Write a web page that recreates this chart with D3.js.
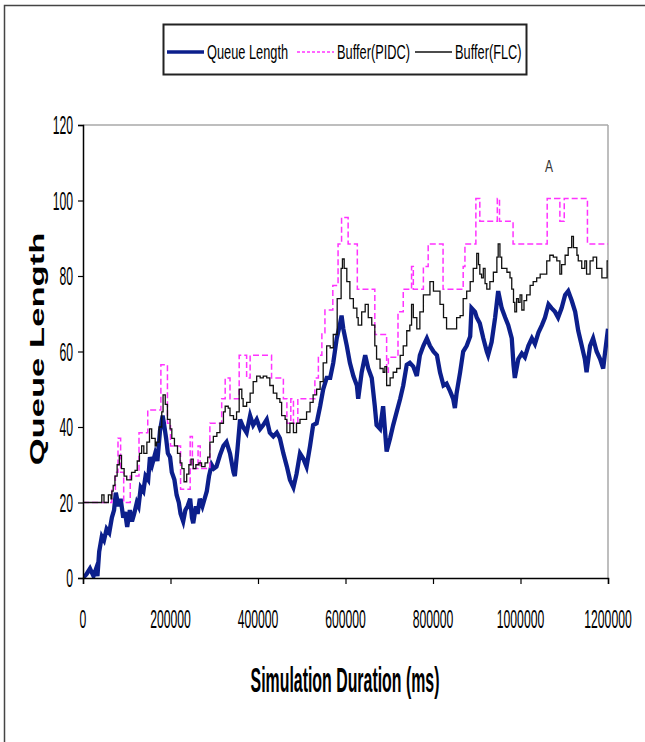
<!DOCTYPE html>
<html>
<head>
<meta charset="utf-8">
<script src="https://cdn.jsdelivr.net/npm/d3@7"></script>
<style>
  body { margin: 0; background: white; }
  text { font-family: "Liberation Sans", Arial, sans-serif; }
</style>
</head>
<body>
<div id="chart"></div>
<script>
// ticks
var xTicks = [0, 200000, 400000, 600000, 800000, 1000000, 1200000];
var yTicks = [0, 20, 40, 60, 80, 100, 120];

// Queue Length (ms, packets)
var queueTime = [0, 8000, 16000, 24000, 30000, 33000, 37000, 43000, 48000, 54000, 60000, 66000, 71000, 75000, 81000, 86000, 92000, 96000, 101000, 107000,
  112000, 117000, 123000, 127000, 132000, 138000, 143000, 149000, 153000, 158000, 165000, 170000, 176000, 182000, 185000, 190000, 194000, 199000, 203000, 209000,
  214000, 219000, 223000, 229000, 234000, 239000, 245000, 249000, 252000, 258000, 262000, 267000, 273000, 278000, 283000, 288000, 294000, 299000, 305000, 313000,
  321000, 328000, 336000, 344000, 347000, 353000, 359000, 366000, 374000, 382000, 389000, 397000, 405000, 412000, 420000, 427000, 435000, 443000, 450000, 458000,
  466000, 473000, 481000, 488000, 496000, 504000, 511000, 519000, 526000, 534000, 542000, 549000, 557000, 565000, 572000, 580000, 587000, 591000, 595000, 603000,
  610000, 618000, 626000, 629000, 637000, 645000, 652000, 660000, 667000, 671000, 679000, 686000, 694000, 702000, 709000, 717000, 725000, 732000, 740000, 747000,
  755000, 763000, 770000, 778000, 786000, 793000, 801000, 809000, 816000, 824000, 831000, 839000, 846000, 850000, 854000, 862000, 869000, 877000, 885000, 888000,
  896000, 900000, 907000, 915000, 923000, 926000, 934000, 942000, 949000, 957000, 965000, 972000, 980000, 984000, 987000, 995000, 1003000, 1010000, 1018000, 1026000,
  1033000, 1041000, 1049000, 1056000, 1064000, 1071000, 1079000, 1086000, 1094000, 1102000, 1109000, 1117000, 1125000, 1132000, 1140000, 1147000, 1151000, 1159000, 1166000, 1174000,
  1182000, 1189000, 1193000, 1200000];
var queueLength = [0, 1, 2.5, 0.5, 2.5, 0.5, 7, 11, 10, 13, 12, 16, 18, 22.6, 19, 21, 16, 17.5, 13.5, 18,
  15, 17, 20, 19, 24, 23, 27, 26, 32, 30, 33, 31, 39, 43, 41, 37, 33, 32, 28, 26,
  22, 20, 17, 15, 18, 19, 21, 16, 14.5, 19, 17, 21, 19, 21, 23, 27, 30, 29, 29.5, 32.5,
  35, 36, 33, 28, 27, 34, 42, 40, 38.5, 43, 40.5, 42, 39.5, 40.5, 42, 38.5, 37.5, 38.5, 37, 33,
  29.5, 26, 24, 27.5, 33, 31.5, 29.5, 35, 40.5, 41, 45.5, 50, 53, 53, 57, 63.5, 67, 69.5, 66, 61.5,
  57, 53.5, 51, 47.5, 54.5, 59, 55.5, 53, 45.5, 40.5, 39.5, 45.5, 33.5, 37, 40.5, 44, 47.5, 51, 56.5, 57,
  56, 53.5, 59, 61.5, 63.5, 61.5, 60, 59, 54.5, 51, 51.5, 49.5, 47.5, 45, 49, 54.5, 60, 61.5, 64, 71.5,
  70.5, 69, 67.5, 63.5, 60, 59, 62.5, 69, 76, 71.5, 69, 67, 63.5, 56.5, 53, 58, 59.5, 58.5, 61.5, 63.5,
  62, 65, 67, 69, 72.5, 71.5, 70.5, 69, 71.5, 75, 76, 73.5, 70.5, 65.5, 61.5, 58, 54.5, 61.5, 63.5, 60,
  58, 55.5, 59.5, 66];

// Buffer(PIDC) step changes
var pidcTime = [0, 66000, 74000, 80000, 86000, 93000, 108000, 128000, 148000, 178000, 193000, 200000, 223000, 245000, 250000, 263000, 268000, 290000, 317000, 325000,
  336000, 357000, 374000, 382000, 431000, 458000, 466000, 475000, 481000, 491000, 530000, 538000, 546000, 553000, 571000, 583000, 591000, 606000, 627000, 667000,
  694000, 698000, 720000, 732000, 751000, 755000, 778000, 789000, 823000, 869000, 873000, 898000, 907000, 947000, 952000, 983000, 1061000, 1090000, 1100000, 1153000,
  1200000];
var pidcBuffer = [20, 23.5, 28, 37, 28, 20, 27, 38.5, 44.5, 56.5, 41, 35, 23.5, 37.5, 29, 35, 29, 41, 47.5, 53,
  47.5, 59, 53, 59, 53, 47.5, 41, 47.5, 41, 47.5, 53, 59, 65, 71, 77.5, 88.5, 95.5, 88.5, 76.5, 64.5,
  54.5, 58.5, 70.5, 76.5, 82.5, 76.5, 82.5, 88.5, 76.5, 82.5, 88.5, 100.5, 94.5, 100.5, 94.5, 88.5, 100.5, 94.5, 100.5, 88.5,
  88.5];

// Buffer(FLC) step changes
var flcTime = [0, 43000, 48000, 58000, 64000, 66000, 69000, 73000, 78000, 83000, 88000, 94000, 100000, 111000, 119000, 124000, 129000, 134000, 139000, 146000,
  152000, 157000, 165000, 168000, 174000, 180000, 183000, 188000, 193000, 199000, 203000, 209000, 216000, 222000, 226000, 231000, 237000, 242000, 247000, 252000,
  258000, 265000, 271000, 279000, 285000, 290000, 298000, 306000, 313000, 321000, 325000, 332000, 336000, 344000, 351000, 357000, 363000, 366000, 374000, 382000,
  389000, 397000, 405000, 412000, 420000, 427000, 435000, 443000, 450000, 454000, 462000, 466000, 473000, 481000, 488000, 496000, 511000, 519000, 526000, 534000,
  542000, 549000, 557000, 565000, 572000, 581000, 590000, 593000, 597000, 603000, 610000, 618000, 626000, 629000, 637000, 645000, 652000, 660000, 667000, 671000,
  679000, 686000, 690000, 694000, 702000, 709000, 717000, 725000, 732000, 740000, 747000, 751000, 755000, 763000, 770000, 778000, 786000, 793000, 801000, 816000,
  824000, 831000, 854000, 862000, 869000, 877000, 885000, 892000, 900000, 904000, 907000, 911000, 915000, 919000, 923000, 930000, 938000, 946000, 949000, 953000,
  957000, 969000, 976000, 980000, 984000, 987000, 991000, 995000, 999000, 1003000, 1008000, 1014000, 1022000, 1029000, 1037000, 1045000, 1060000, 1067000, 1075000, 1083000,
  1090000, 1094000, 1102000, 1109000, 1117000, 1121000, 1129000, 1132000, 1140000, 1147000, 1151000, 1159000, 1166000, 1174000, 1186000, 1198000, 1200000];
var flcBuffer = [20, 22, 20, 22, 21, 23, 24.5, 27, 30, 32.5, 29, 27, 26, 28, 28.5, 31, 33, 35, 33, 36,
  39.5, 37, 35, 36, 40, 44, 48.5, 46, 42, 39.5, 37, 35, 33, 30.5, 29, 25.5, 27.5, 30, 31.5, 29,
  30, 30.5, 29.5, 30.5, 32, 36, 37.5, 38.5, 41, 44, 45.5, 45, 43, 42, 44, 50, 47.5, 45.5, 46.5, 49,
  52, 53.5, 53, 53.5, 53, 51, 49, 47.5, 46.5, 43, 42, 38.5, 41, 38.5, 41, 42, 44, 46.5, 48.5, 50,
  52, 57, 61.5, 61, 64.5, 74, 82, 84.5, 82, 78.5, 74, 71.5, 69, 67, 70.5, 72.5, 69, 67, 61.5, 58,
  55.5, 54.5, 56, 51, 53, 54.5, 55.5, 59, 61.5, 65.5, 67, 72.5, 69, 66, 70.5, 75, 75, 78.5, 76, 72.5,
  69, 66, 69, 69.5, 74, 76, 78.5, 82, 86, 83, 80.5, 79.5, 82, 78, 76.5, 78.5, 81, 85, 88.5, 85,
  82, 81, 79.5, 76.5, 73, 70.5, 74, 73, 75, 71, 73.5, 75, 77.5, 78.5, 79.5, 80.5, 84, 85.5, 85, 84,
  80.5, 83, 85.5, 87.5, 90.5, 87.5, 85.5, 84, 82, 84, 80.5, 84, 85, 82, 79.5, 84, 84];

var width = 645, height = 742;
var margin = { left: 83, right: 37, top: 125, bottom: 164 };
var plotW = width - margin.left - margin.right;
var plotH = height - margin.top - margin.bottom;

var svg = d3.select("#chart").append("svg")
  .attr("width", width)
  .attr("height", height)
  .style("background", "white");

// outer frame
svg.append("rect")
  .attr("x", 4.5).attr("y", 5.5)
  .attr("width", 700).attr("height", 800)
  .attr("fill", "none")
  .attr("stroke", "#444")
  .attr("stroke-width", 1.5);

// stretched text, as in the picture
function stext(parent, x, y, str, size, sy, anchor, weight) {
  return parent.append("text")
    .attr("transform", "translate(" + x + "," + y + ") scale(1," + sy + ")")
    .attr("text-anchor", anchor || "start")
    .style("font-size", size + "px")
    .style("font-weight", weight || "normal")
    .text(str);
}

var g = svg.append("g")
  .attr("transform", "translate(" + margin.left + "," + margin.top + ")");

var xscale = d3.scaleLinear().domain([0, 1200000]).range([0, plotW]);
var yscale = d3.scaleLinear().domain([0, 120]).range([plotH, 0]);

// top and right border of the plot area
g.append("line").attr("x1", 0).attr("x2", plotW).attr("y1", 0).attr("y2", 0)
  .attr("stroke", "#a8a8a8").attr("stroke-width", 1.5);
g.append("line").attr("x1", plotW).attr("x2", plotW).attr("y1", 0).attr("y2", plotH)
  .attr("stroke", "#a8a8a8").attr("stroke-width", 1.5);

svg.append("clipPath").attr("id", "plotclip")
  .append("rect").attr("x", 0).attr("y", -2).attr("width", plotW).attr("height", plotH + 2);

var lines = g.append("g").attr("clip-path", "url(#plotclip)");

var queueData = queueTime.map(function (t, i) { return { t: t, v: queueLength[i] }; });
var pidcData = pidcTime.map(function (t, i) { return { t: t, v: pidcBuffer[i] }; });
var flcData = flcTime.map(function (t, i) { return { t: t, v: flcBuffer[i] }; });

lines.append("path")
  .datum(queueData)
  .attr("fill", "none")
  .attr("stroke", "#0c1f8c")
  .attr("stroke-width", 4.3)
  .attr("stroke-linejoin", "miter")
  .attr("d", d3.line()
    .x(function (d) { return xscale(d.t) })
    .y(function (d) { return yscale(d.v) })
  );

lines.append("path")
  .datum(pidcData)
  .attr("fill", "none")
  .attr("stroke", "#ff33ff")
  .attr("stroke-width", 1.5)
  .attr("stroke-dasharray", "6,3")
  .attr("d", d3.line().curve(d3.curveStepAfter)
    .x(function (d) { return xscale(d.t) })
    .y(function (d) { return yscale(d.v) })
  );

lines.append("path")
  .datum(flcData)
  .attr("fill", "none")
  .attr("stroke", "#111")
  .attr("stroke-width", 1.3)
  .attr("d", d3.line().curve(d3.curveStepAfter)
    .x(function (d) { return xscale(d.t) })
    .y(function (d) { return yscale(d.v) })
  );

// axes
var xAxis = g.append("g")
  .attr("transform", "translate(0," + plotH + ")")
  .call(d3.axisBottom(xscale).tickValues(xTicks).tickSize(6).tickFormat(""));
var yAxis = g.append("g")
  .call(d3.axisLeft(yscale).tickValues(yTicks).tickSize(5).tickFormat(""));
[xAxis, yAxis].forEach(function (a) {
  a.select(".domain").attr("stroke", "#000").attr("stroke-width", 1.5);
  a.selectAll(".tick line").attr("stroke", "#000").attr("stroke-width", 1.2);
});

xTicks.forEach(function (t) {
  stext(g, xscale(t), plotH + 50, String(t), 12.2, 2.05, "middle");
});
yTicks.forEach(function (v) {
  stext(g, -10, yscale(v) + 9, String(v), 12.2, 2.05, "end");
});

// axis titles
stext(svg, 345, 692, "Simulation Duration (ms)", 15.9, 2.2, "middle", "bold");
svg.append("text")
  .attr("transform", "translate(44,349) rotate(-90) scale(1.65,1)")
  .attr("text-anchor", "middle")
  .style("font-size", "21px")
  .style("font-weight", "bold")
  .text("Queue Length");

// marker label
stext(g, xscale(1065000), 47, "A", 12, 1.45, "middle").attr("fill", "#333");

// legend
var legend = svg.append("g");
legend.append("rect")
  .attr("x", 163.5).attr("y", 24.5)
  .attr("width", 363).attr("height", 50)
  .attr("fill", "white")
  .attr("stroke", "#222")
  .attr("stroke-width", 2);

var legendItems = [
  { name: "Queue Length", x: 167, color: "#0c1f8c", w: 3.6, dash: null },
  { name: "Buffer(PIDC)", x: 297, color: "#ff33ff", w: 1.5, dash: "3,2" },
  { name: "Buffer(FLC)", x: 415, color: "#111", w: 1.3, dash: null }
];
legendItems.forEach(function (d) {
  legend.append("line")
    .attr("x1", d.x).attr("x2", d.x + 37)
    .attr("y1", 52).attr("y2", 52)
    .attr("stroke", d.color)
    .attr("stroke-width", d.w)
    .attr("stroke-dasharray", d.dash);
  stext(legend, d.x + 40, 58.5, d.name, 12.8, 1.64, "start");
});
</script>
</body>
</html>
